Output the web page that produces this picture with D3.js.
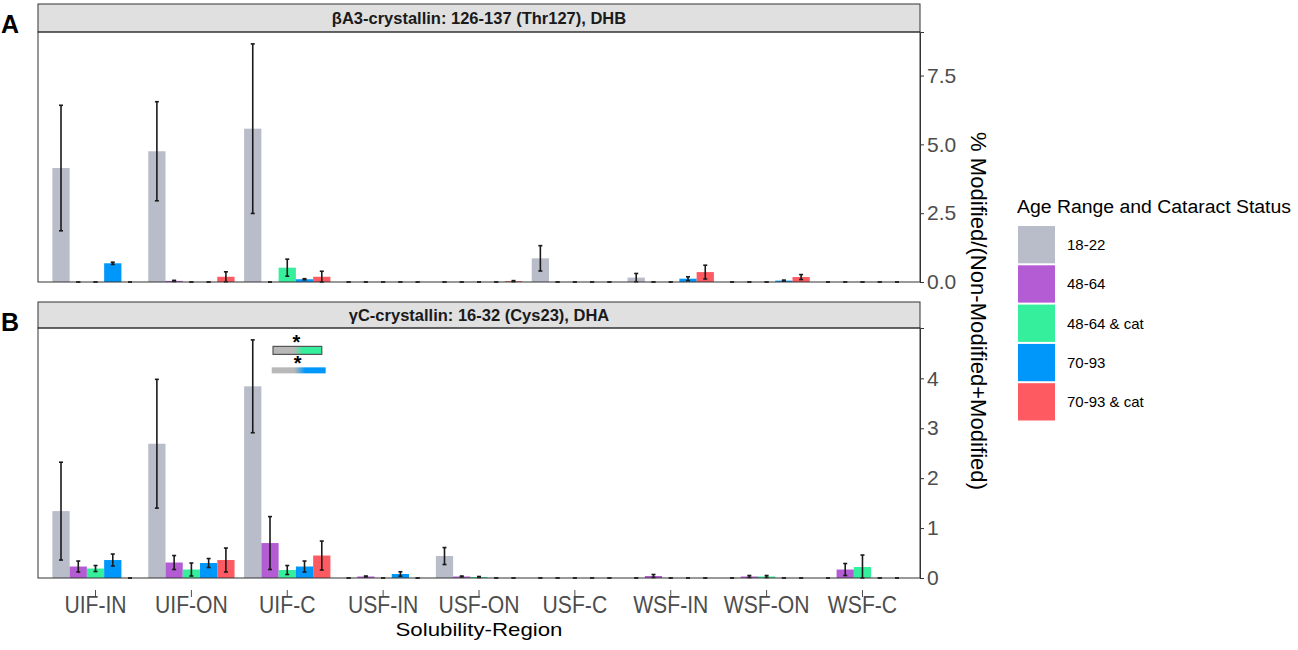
<!DOCTYPE html>
<html><head><meta charset="utf-8">
<script src="https://cdn.jsdelivr.net/npm/d3@7"></script>
<style>html,body{margin:0;padding:0;background:#fff;}svg{display:block;font-family:"Liberation Sans",Arial,sans-serif;}</style>
</head><body>
<svg id="chart" width="1298" height="650"></svg>
<script>
// ---------------- DATA ----------------
const categories = ["UIF-IN","UIF-ON","UIF-C","USF-IN","USF-ON","USF-C","WSF-IN","WSF-ON","WSF-C"];
const groups = ["18-22","48-64","48-64 & cat","70-93","70-93 & cat"];
const groupColors = ["#b9bcc9","#b45cd4","#35ef9c","#0097fb","#fd5a62"];

// Panel A: βA3-crystallin 126-137 (Thr127), DHB
const panelATitle = "βA3-crystallin: 126-137 (Thr127), DHB";
const A_18_22      = [4.14, 4.75, 5.57, 0, 0,    0.86, 0.16, 0,    0];
const A_18_22_err  = [2.28, 1.80, 3.08, 0, 0,    0.46, 0.15, 0,    0];
const A_48_64      = [0,    0.04, 0,    0, 0,    0,    0,    0,    0];
const A_48_64_err  = [0,    0.02, 0,    0, 0,    0,    0,    0,    0];
const A_48_64c     = [0,    0,    0.52, 0, 0,    0,    0,    0,    0];
const A_48_64c_err = [0,    0,    0.31, 0, 0,    0,    0,    0,    0];
const A_70_93      = [0.68, 0,    0.10, 0, 0,    0,    0.12, 0.05, 0];
const A_70_93_err  = [0.04, 0,    0.02, 0, 0,    0,    0.07, 0.02, 0];
const A_70_93c     = [0,    0.19, 0.19, 0, 0.03, 0,    0.36, 0.18, 0];
const A_70_93c_err = [0,    0.18, 0.20, 0, 0.02, 0,    0.25, 0.09, 0];

// Panel B: γC-crystallin 16-32 (Cys23), DHA
const panelBTitle = "γC-crystallin: 16-32 (Cys23), DHA";
const B_18_22      = [1.34, 2.69, 3.84, 0,    0.44, 0, 0,    0,    0];
const B_18_22_err  = [0.98, 1.29, 0.93, 0,    0.17, 0, 0,    0,    0];
const B_48_64      = [0.23, 0.31, 0.70, 0.03, 0.03, 0, 0.04, 0.03, 0.17];
const B_48_64_err  = [0.11, 0.14, 0.53, 0.01, 0.01, 0, 0.03, 0.02, 0.12];
const B_48_64c     = [0.19, 0.17, 0.16, 0,    0.02, 0, 0,    0.03, 0.22];
const B_48_64c_err = [0.06, 0.13, 0.09, 0,    0.01, 0, 0,    0.02, 0.24];
const B_70_93      = [0.36, 0.30, 0.23, 0.08, 0,    0, 0,    0,    0];
const B_70_93_err  = [0.12, 0.09, 0.11, 0.045,0,    0, 0,    0,    0];
const B_70_93c     = [0,    0.36, 0.45, 0,    0,    0, 0,    0,    0];
const B_70_93c_err = [0,    0.24, 0.29, 0,    0,    0, 0,    0,    0];

const A_ticks = [0, 2.5, 5.0, 7.5];
const B_ticks = [0, 1, 2, 3, 4];

// significance annotations (panel B, UIF-C): comparison pair and height
const sigCategory = "UIF-C";
const sigPairs = [
  {from: "18-22", to: "48-64 & cat", y: 4.64, label: "*"},
  {from: "18-22", to: "70-93",       y: 4.22, label: "*"}
];

const yTitle = "% Modified/(Non-Modified+Modified)";
const xTitle = "Solubility-Region";
const legendTitle = "Age Range and Cataract Status";

// ---------------- BUILD ----------------
function series(vals, errs){ return groups.map((g,i)=>({group:g, vals:vals[i], errs:errs[i]})); }
const panels = [
  {letter:"A", title: panelATitle, ticks: A_ticks, fmt: d3.format(".1f"),
   s: series([A_18_22,A_48_64,A_48_64c,A_70_93,A_70_93c],[A_18_22_err,A_48_64_err,A_48_64c_err,A_70_93_err,A_70_93c_err]),
   stripTop: 4, top: 32, bottom: 282},
  {letter:"B", title: panelBTitle, ticks: B_ticks, fmt: d3.format("d"),
   s: series([B_18_22,B_48_64,B_48_64c,B_70_93,B_70_93c],[B_18_22_err,B_48_64_err,B_48_64c_err,B_70_93_err,B_70_93c_err]),
   stripTop: 302, top: 328, bottom: 578, sig: true}
];

const svg = d3.select("#chart");
const L = 38, R = 920;
const x = d3.scaleBand().domain(categories).range([L, R]).paddingInner(0.1).paddingOuter(0.15);
const xg = d3.scaleBand().domain(groups).range([0, x.bandwidth()]).padding(0);
const color = d3.scaleOrdinal().domain(groups).range(groupColors);

const defs = svg.append("defs");

panels.forEach((p, pi) => {
  const g = svg.append("g");
  let maxV = 0;
  p.s.forEach(s => s.vals.forEach((v,i)=>{ maxV = Math.max(maxV, v + s.errs[i]); }));
  const y = d3.scaleLinear().domain([0, maxV*1.05]).range([p.bottom, p.top]);

  // strip
  g.append("rect").attr("x", L).attr("y", p.stripTop).attr("width", R-L).attr("height", p.top-p.stripTop)
    .attr("fill", "#e0e0e0").attr("stroke", "#333").attr("stroke-width", 1);
  g.append("text").attr("x", (L+R)/2).attr("y", (p.stripTop+p.top)/2 + 6)
    .attr("text-anchor","middle").attr("font-size", 16.5).attr("font-weight","bold").attr("fill","#1a1a1a")
    .text(p.title);

  // bars
  const flat = [];
  p.s.forEach(s => categories.forEach((c,i)=> flat.push({cat:c, group:s.group, v:s.vals[i], e:s.errs[i]})));
  g.append("g").selectAll("rect").data(flat).join("rect")
    .attr("x", d => x(d.cat) + xg(d.group))
    .attr("width", xg.bandwidth())
    .attr("y", d => y(d.v))
    .attr("height", d => y(0) - y(d.v))
    .attr("fill", d => color(d.group));

  // error bars
  const cap = 2;
  const eb = g.append("g").attr("stroke", "#1a1a1a").attr("stroke-width", 1.6).attr("fill","none");
  flat.forEach(d => {
    const cx = x(d.cat) + xg(d.group) + xg.bandwidth()/2;
    const lo = Math.max(0, d.v - d.e), hi = d.v + d.e;
    eb.append("line").attr("x1", cx).attr("x2", cx).attr("y1", y(lo)).attr("y2", y(hi));
    eb.append("line").attr("x1", cx-cap).attr("x2", cx+cap).attr("y1", y(hi)).attr("y2", y(hi));
    eb.append("line").attr("x1", cx-cap).attr("x2", cx+cap).attr("y1", y(lo)).attr("y2", y(lo));
  });

  // panel border
  g.append("rect").attr("x", L).attr("y", p.top).attr("width", R-L).attr("height", p.bottom-p.top)
    .attr("fill","none").attr("stroke","#333").attr("stroke-width",1);

  // right axis
  const ax = g.append("g").attr("transform", `translate(${R},0)`)
    .call(d3.axisRight(y).tickValues(p.ticks).tickFormat(p.fmt).tickSize(4).tickPadding(3));
  ax.select(".domain").attr("stroke","#333");
  ax.selectAll(".tick line").attr("stroke","#333");
  ax.selectAll(".tick text").attr("font-size", 21).attr("fill","#4d4d4d")
    .attr("font-family",'"Liberation Sans",Arial,sans-serif');

  // panel letter
  g.append("text").attr("x", 1).attr("y", p.stripTop + 29).attr("font-size", 25).attr("font-weight","bold")
    .attr("fill","#000").text(p.letter);

  // significance
  if (p.sig) {
    const b0 = x(sigCategory), bw = x.bandwidth();
    sigPairs.forEach((sp, k) => {
      const gid = "sg" + k;
      const grad = defs.append("linearGradient").attr("id", gid).attr("x1","0%").attr("x2","100%");
      grad.append("stop").attr("offset","0%").attr("stop-color","#b8b8b8");
      grad.append("stop").attr("offset","42%").attr("stop-color","#b8b8b8");
      grad.append("stop").attr("offset","62%").attr("stop-color", color(sp.to));
      grad.append("stop").attr("offset","100%").attr("stop-color", color(sp.to));
      const x0 = b0 + bw*(k===0 ? 0.335 : 0.32);
      const x1 = b0 + bw*(k===0 ? 0.90 : 0.945);
      const h = k===0 ? 8 : 6;
      g.append("rect").attr("x", x0).attr("y", y(sp.y)).attr("width", x1-x0).attr("height", h)
        .attr("fill", `url(#${gid})`)
        .attr("stroke", k===0 ? "#555" : "none").attr("stroke-width", 1.2);
      g.append("text").attr("x", (x0+x1)/2 - 1).attr("y", y(sp.y) + 3)
        .attr("text-anchor","middle").attr("font-size", 20).attr("font-weight","bold").attr("fill","#000")
        .text(sp.label);
    });
  }

  // x axis labels only on bottom panel
  if (pi === panels.length - 1) {
    const xa = g.append("g");
    categories.forEach(c => {
      const cx = x(c) + x.bandwidth()/2;
      xa.append("line").attr("x1", cx).attr("x2", cx).attr("y1", p.bottom + 12).attr("y2", p.bottom + 19)
        .attr("stroke","#4d4d4d").attr("stroke-width",1);
      xa.append("text").attr("transform", `translate(${cx},${p.bottom + 35}) scale(0.9,1)`)
        .attr("text-anchor","middle").attr("font-size", 23.5).attr("fill","#4d4d4d").text(c);
    });
    svg.append("text").attr("x", (L+R)/2).attr("y", p.bottom + 58)
      .attr("text-anchor","middle").attr("font-size", 19).attr("fill","#000")
      .attr("textLength", 167).attr("lengthAdjust","spacingAndGlyphs").text(xTitle);
  }
});

// y title
svg.append("text").attr("transform", "translate(978,311) rotate(90)")
  .attr("text-anchor","middle").attr("dominant-baseline","central")
  .attr("font-size", 22).attr("fill","#000")
  .attr("textLength", 358).attr("lengthAdjust","spacingAndGlyphs").text(yTitle);

// legend
const lg = svg.append("g").attr("transform","translate(1017,0)");
lg.append("text").attr("x", 0).attr("y", 213).attr("font-size", 18).attr("fill","#000")
  .attr("textLength", 274).attr("lengthAdjust","spacingAndGlyphs").text(legendTitle);
const keyY = d3.scaleBand().domain(groups).range([226, 226 + 39.3*groups.length]).padding(0);
groups.forEach(gname => {
  lg.append("rect").attr("x", 1).attr("y", keyY(gname)).attr("width", 37).attr("height", keyY.bandwidth()-2)
    .attr("fill", color(gname));
  lg.append("text").attr("x", 50).attr("y", keyY(gname) + keyY.bandwidth()/2 - 1)
    .attr("dominant-baseline","central").attr("font-size", 15).attr("fill","#000").text(gname);
});
</script>
</body></html>
